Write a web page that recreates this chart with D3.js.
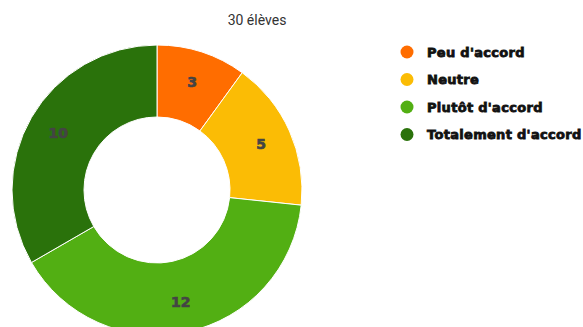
<!DOCTYPE html>
<html>
<head>
<meta charset="utf-8">
<script src="https://cdn.jsdelivr.net/npm/d3@7"></script>
<style>
  html, body { margin: 0; padding: 0; background: #fff; }
  svg { display: block; }
</style>
</head>
<body>
<svg id="chart" width="583" height="327"></svg>
<script>
// Survey answers for the class
const title = "30 élèves";
const categories = ["Peu d'accord", "Neutre", "Plutôt d'accord", "Totalement d'accord"];
const values = [3, 5, 12, 10];
const colors = ["#FF6D00", "#FBBC05", "#52AF13", "#2A720B"];

const svg = d3.select("#chart");
const cx = 157, cy = 190;
const outerR = 145, innerR = 73, labelR = 114;

const data = categories.map((c, i) => ({ name: c, value: values[i], color: colors[i] }));

const pie = d3.pie().value(d => d.value).sort(null);
const arc = d3.arc().innerRadius(innerR).outerRadius(outerR);
const labelArc = d3.arc().innerRadius(labelR).outerRadius(labelR);

const g = svg.append("g").attr("transform", `translate(${cx},${cy})`);
const arcs = pie(data);

g.selectAll("path.slice")
  .data(arcs)
  .join("path")
  .attr("class", "slice")
  .attr("d", arc)
  .attr("fill", d => d.data.color)
  .attr("stroke", "#ffffff")
  .attr("stroke-width", 1);

g.selectAll("text.val")
  .data(arcs)
  .join("text")
  .attr("class", "val")
  .attr("transform", d => `translate(${labelArc.centroid(d)})`)
  .attr("text-anchor", "middle")
  .attr("dominant-baseline", "central")
  .attr("font-family", "'DejaVu Sans', sans-serif")
  .attr("font-weight", "bold")
  .attr("font-size", 14)
  .attr("fill", "#444444")
  .attr("stroke", "#444444")
  .attr("stroke-width", 0.7)
  .text(d => d.data.value);

// Title
svg.append("text")
  .attr("x", 257)
  .attr("y", 25)
  .attr("text-anchor", "middle")
  .attr("font-family", "Roboto, 'Liberation Sans', sans-serif")
  .attr("font-size", 14)
  .attr("fill", "#333333")
  .text(title);

// Legend
const legend = svg.append("g").attr("transform", "translate(407,52)");
const rows = legend.selectAll("g.row")
  .data(data)
  .join("g")
  .attr("class", "row")
  .attr("transform", (d, i) => `translate(0,${i * 27.5})`);

rows.append("circle")
  .attr("r", 6.5)
  .attr("fill", d => d.color);

rows.append("text")
  .attr("x", 20)
  .attr("dominant-baseline", "central")
  .attr("font-family", "'DejaVu Sans', sans-serif")
  .attr("font-weight", "bold")
  .attr("font-size", 13)
  .attr("letter-spacing", 0.3)
  .attr("fill", "#111111")
  .attr("stroke", "#111111")
  .attr("stroke-width", 0.8)
  .text(d => d.name);
</script>
</body>
</html>
